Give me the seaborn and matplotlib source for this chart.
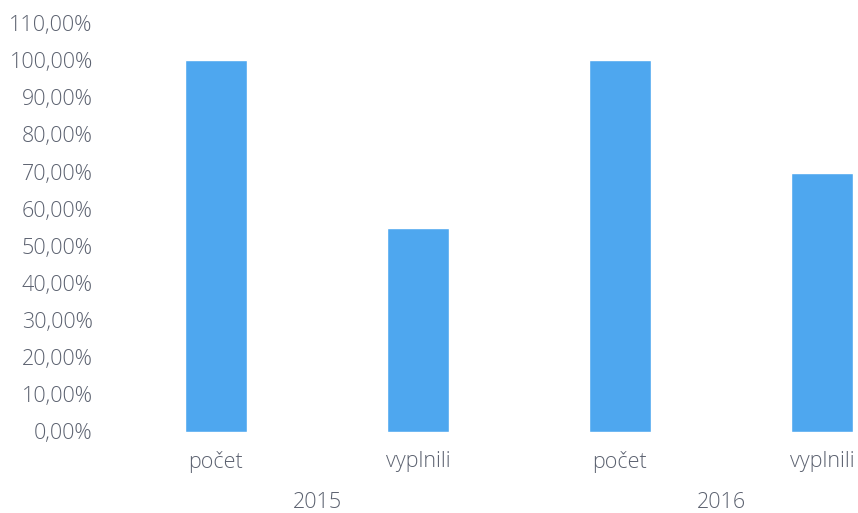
import matplotlib
matplotlib.use("Agg")
import matplotlib.pyplot as plt
import matplotlib.transforms as mtransforms
from matplotlib.ticker import FuncFormatter
import seaborn as sns
import pandas as pd

# values
keys = ["2015 počet", "2015 vyplnili", "2016 počet", "2016 vyplnili"]
labels = ["počet", "vyplnili", "počet", "vyplnili"]
values = [100.0, 54.7, 100.0, 69.7]
years = ["2015", "2016"]
y_ticks = list(range(0, 111, 10))

bar_color = "#4ea7ef"
text_color = "#5c6270"

sns.set_theme(style="white")
plt.rcParams["font.family"] = ["Open Sans", "DejaVu Sans"]
plt.rcParams["font.weight"] = "light"

df = pd.DataFrame({"key": keys, "value": values})

fig = plt.figure(figsize=(8.58, 5.13), dpi=100)
ax = fig.add_axes([115 / 858, 81.5 / 513, 743 / 858, 408.5 / 513])

sns.barplot(data=df, x="key", y="value", order=keys, color=bar_color,
            width=0.31, saturation=1, ax=ax)

ax.set_ylim(0, 110)
ax.set_xlim(-0.5, (858 - 216) / 202)
ax.set_yticks(y_ticks)
ax.yaxis.set_major_formatter(FuncFormatter(lambda v, p: f"{v:.2f}%".replace(".", ",")))
ax.set_xticks(range(len(labels)))
ax.set_xticklabels(labels)
ax.set_xlabel("")
ax.set_ylabel("")

ax.tick_params(axis="both", length=0, colors=text_color, labelsize=15.5)
ax.tick_params(axis="y", pad=16)
ax.tick_params(axis="x", pad=14)
for s in ax.spines.values():
    s.set_visible(False)
ax.grid(False)

# year group labels under each pair of bars
trans = mtransforms.blended_transform_factory(ax.transData, ax.transAxes)
for i, yr in enumerate(years):
    ax.text(2 * i + 0.5, -0.175, yr, transform=trans, ha="center", va="center",
            color=text_color, fontsize=15.5)

fig.savefig("out.png", dpi=100)
